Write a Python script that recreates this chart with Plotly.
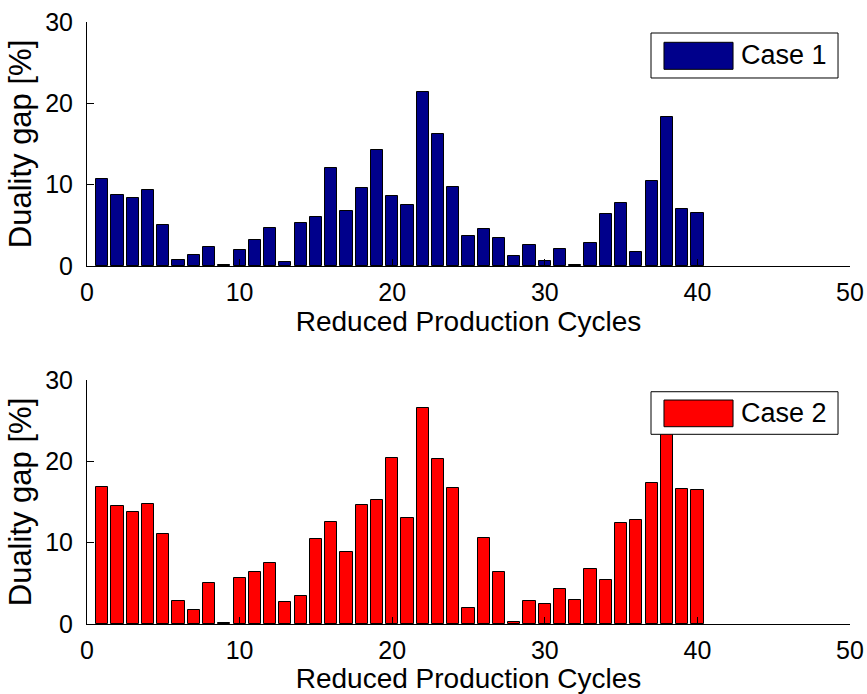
import plotly.graph_objects as go
from plotly.subplots import make_subplots

cycles = list(range(1, 41))
case1 = [10.75, 8.7, 8.37, 9.31, 5.09, 0.79, 1.32, 2.3, 0.1, 2.0,
         3.25, 4.68, 0.54, 5.34, 6.08, 12.1, 6.81, 9.64, 14.3, 8.61,
         7.5, 21.4, 16.2, 9.72, 3.65, 4.51, 3.45, 1.19, 2.58, 0.66,
         2.05, 0.08, 2.87, 6.4, 7.71, 1.77, 10.5, 18.3, 7.01, 6.57]
case2 = [16.8, 14.5, 13.8, 14.8, 11.05, 2.85, 1.75, 4.98, 0.15, 5.6,
         6.37, 7.48, 2.73, 3.42, 10.48, 12.57, 8.88, 14.66, 15.19, 20.44,
         13.0, 26.6, 20.27, 16.7, 1.99, 10.55, 6.37, 0.3, 2.85, 2.44,
         4.28, 2.89, 6.74, 5.39, 12.4, 12.8, 17.37, 25.0, 16.6, 16.46]
series_names = ["Case 1", "Case 2"]
colors = ["#00008B", "#FF0000"]
x_ticks = [0, 10, 20, 30, 40, 50]
y_ticks = [0, 10, 20, 30]

FONT = "Liberation Sans, Arial, Helvetica, sans-serif"

fig = make_subplots(rows=2, cols=1, vertical_spacing=0.0)

for i, (vals, name, col) in enumerate(zip([case1, case2], series_names, colors)):
    fig.add_trace(go.Bar(x=cycles, y=vals, name=name, width=0.8,
                         marker=dict(color=col, line=dict(color="black", width=1)),
                         showlegend=False), row=i + 1, col=1)

axis_common = dict(showline=True, linecolor="black", linewidth=1, ticks="inside",
                   ticklen=7, tickwidth=1, tickcolor="black", showgrid=False,
                   zeroline=False, mirror=False, automargin=False,
                   tickfont=dict(family=FONT, size=25, color="black"))

for r in (1, 2):
    fig.update_xaxes(range=[0, 50], tickvals=x_ticks, ticklabelstandoff=4,
                     title=dict(text="Reduced Production Cycles", standoff=2,
                                font=dict(family=FONT, size=28, color="black")),
                     row=r, col=1, **axis_common)
    fig.update_yaxes(range=[0, 30], tickvals=y_ticks, ticklabelstandoff=8,
                     title=dict(text="Duality gap [%]", standoff=4,
                                font=dict(family=FONT, size=31, color="black")),
                     row=r, col=1, **axis_common)

fig.update_layout(
    xaxis=dict(domain=[0, 1], anchor="y"),
    yaxis=dict(domain=[0.5947, 1.0]),
    xaxis2=dict(domain=[0, 1], anchor="y2"),
    yaxis2=dict(domain=[0.0, 0.4053]),
)

# manual legends (MATLAB style)
legend_pos = [
    dict(xref="x domain", yref="y domain", box=(0.7392, 0.9843, 0.7705, 0.9549),
         sw=(0.7562, 0.8467, 0.806, 0.9168), ty=0.8627),
    dict(xref="x2 domain", yref="y2 domain", box=(0.7392, 0.9843, 0.7775, 0.952),
         sw=(0.7562, 0.8467, 0.8086, 0.918), ty=0.8648),
]
for lp, name, col in zip(legend_pos, series_names, colors):
    bx0, bx1, by0, by1 = lp["box"]
    fig.add_shape(type="rect", xref=lp["xref"], yref=lp["yref"], x0=bx0, x1=bx1,
                  y0=by0, y1=by1, fillcolor="white", line=dict(color="black", width=1),
                  layer="above")
    sx0, sx1, sy0, sy1 = lp["sw"]
    fig.add_shape(type="rect", xref=lp["xref"], yref=lp["yref"], x0=sx0, x1=sx1,
                  y0=sy0, y1=sy1, fillcolor=col, line=dict(color="black", width=1),
                  layer="above")
    fig.add_annotation(xref=lp["xref"], yref=lp["yref"], x=0.8545, y=lp["ty"],
                       text=name, showarrow=False, xanchor="left", yanchor="middle",
                       font=dict(family=FONT, size=27, color="black"))

fig.update_layout(
    width=867, height=694,
    margin=dict(l=87, r=17, t=22, b=70, autoexpand=False),
    plot_bgcolor="white", paper_bgcolor="white",
    font=dict(family=FONT, size=26, color="black"),
    bargap=0,
)

fig.write_html("out.html")
